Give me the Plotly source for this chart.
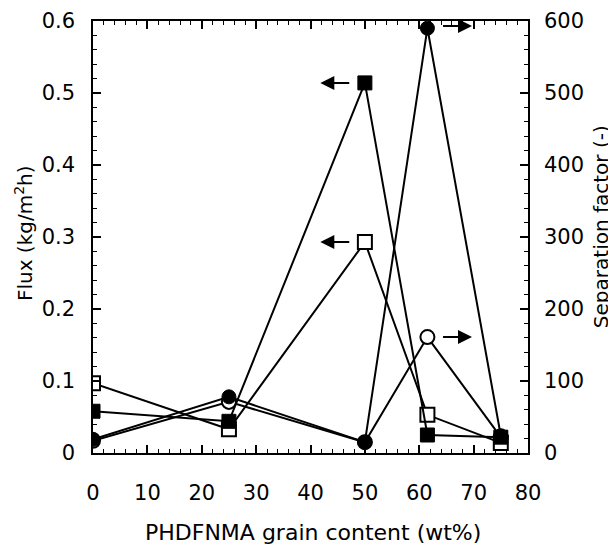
import plotly.graph_objects as go

x_vals = [0, 25, 50, 61.5, 75]
flux_filled = [0.058, 0.044, 0.514, 0.025, 0.022]
flux_open = [0.097, 0.033, 0.293, 0.053, 0.014]
sep_filled = [19, 78, 15, 590, 24]
sep_open = [17, 71, 15, 161, 22]

x_title = "PHDFNMA grain content (wt%)"
y_left_title = "Flux (kg/m<sup>2</sup>h)"
y_right_title = "Separation factor (-)"

FONT = "DejaVu Sans"
fig = go.Figure()

# separation factor on yaxis (right side), flux on yaxis2 (left side, drawn above)
fig.add_trace(go.Scatter(x=x_vals, y=sep_open, mode="lines+markers", yaxis="y",
                         line=dict(color="black", width=2),
                         marker=dict(symbol="circle", size=14, color="white",
                                     line=dict(color="black", width=2))))
fig.add_trace(go.Scatter(x=x_vals, y=sep_filled, mode="lines+markers", yaxis="y",
                         line=dict(color="black", width=2),
                         marker=dict(symbol="circle", size=14, color="black",
                                     line=dict(color="black", width=1))))
fig.add_trace(go.Scatter(x=x_vals, y=flux_open, mode="lines+markers", yaxis="y2",
                         line=dict(color="black", width=2),
                         marker=dict(symbol="square", size=14, color="white",
                                     line=dict(color="black", width=2))))
fig.add_trace(go.Scatter(x=x_vals, y=flux_filled, mode="lines+markers", yaxis="y2",
                         line=dict(color="black", width=2),
                         marker=dict(symbol="square", size=14, color="black",
                                     line=dict(color="black", width=1))))

def arrow(xp, yp, yref, direction):
    x0 = xp + 2.6 * direction
    x1 = xp + 8.2 * direction
    fig.add_annotation(x=x1, y=yp, ax=x0, ay=yp, xref="x", yref=yref,
                       axref="x", ayref=yref, text="", showarrow=True,
                       arrowhead=2, arrowsize=1.4, arrowwidth=2, arrowcolor="black")

arrow(x_vals[2], flux_filled[2], "y2", -1)
arrow(x_vals[2], flux_open[2], "y2", -1)
arrow(x_vals[3], sep_filled[3] + 3, "y", 1)
arrow(x_vals[3], sep_open[3], "y", 1)

fig.add_annotation(text=x_title, xref="paper", yref="paper", x=0.506, y=-0.185,
                   xanchor="center", yanchor="middle", showarrow=False,
                   font=dict(family=FONT, size=22, color="black"))
fig.add_annotation(text=y_left_title, xref="paper", yref="paper", x=-0.16, y=0.51,
                   xanchor="center", yanchor="middle", showarrow=False, textangle=-90,
                   font=dict(family=FONT, size=20, color="black"))
fig.add_annotation(text=y_right_title, xref="paper", yref="paper", x=1.168, y=0.523,
                   xanchor="center", yanchor="middle", showarrow=False, textangle=-90,
                   font=dict(family=FONT, size=20, color="black"))

axis_common = dict(showline=True, linecolor="black", linewidth=1.5, ticks="inside",
                   tickcolor="black", tickwidth=1.5, ticklen=8, showgrid=False,
                   zeroline=False, automargin=False,
                   tickfont=dict(family=FONT, size=21, color="black"))

fig.update_layout(
    width=608, height=536,
    margin=dict(l=85, r=88, t=13, b=91, autoexpand=False),
    paper_bgcolor="white", plot_bgcolor="white",
    showlegend=False,
    xaxis=dict(range=[0, 80], dtick=10, tick0=0, mirror="ticks",
               minor=dict(dtick=2, ticklen=4, ticks="inside", tickcolor="black", tickwidth=1.2),
               ticklabelstandoff=20,
               **axis_common),
    yaxis=dict(range=[0, 600], dtick=100, side="right", mirror=False,
               minor=dict(dtick=20, ticklen=4, ticks="inside", tickcolor="black", tickwidth=1.2),
               ticklabelstandoff=10,
               **axis_common),
    yaxis2=dict(range=[0, 0.6], side="left", overlaying="y", mirror=False,
                tickvals=[0, 0.1, 0.2, 0.3, 0.4, 0.5, 0.6],
                ticktext=["0", "0.1", "0.2", "0.3", "0.4", "0.5", "0.6"],
                minor=dict(dtick=0.02, ticklen=4, ticks="inside", tickcolor="black", tickwidth=1.2),
                ticklabelstandoff=12,
                **axis_common),
)

fig.write_html("out.html")
